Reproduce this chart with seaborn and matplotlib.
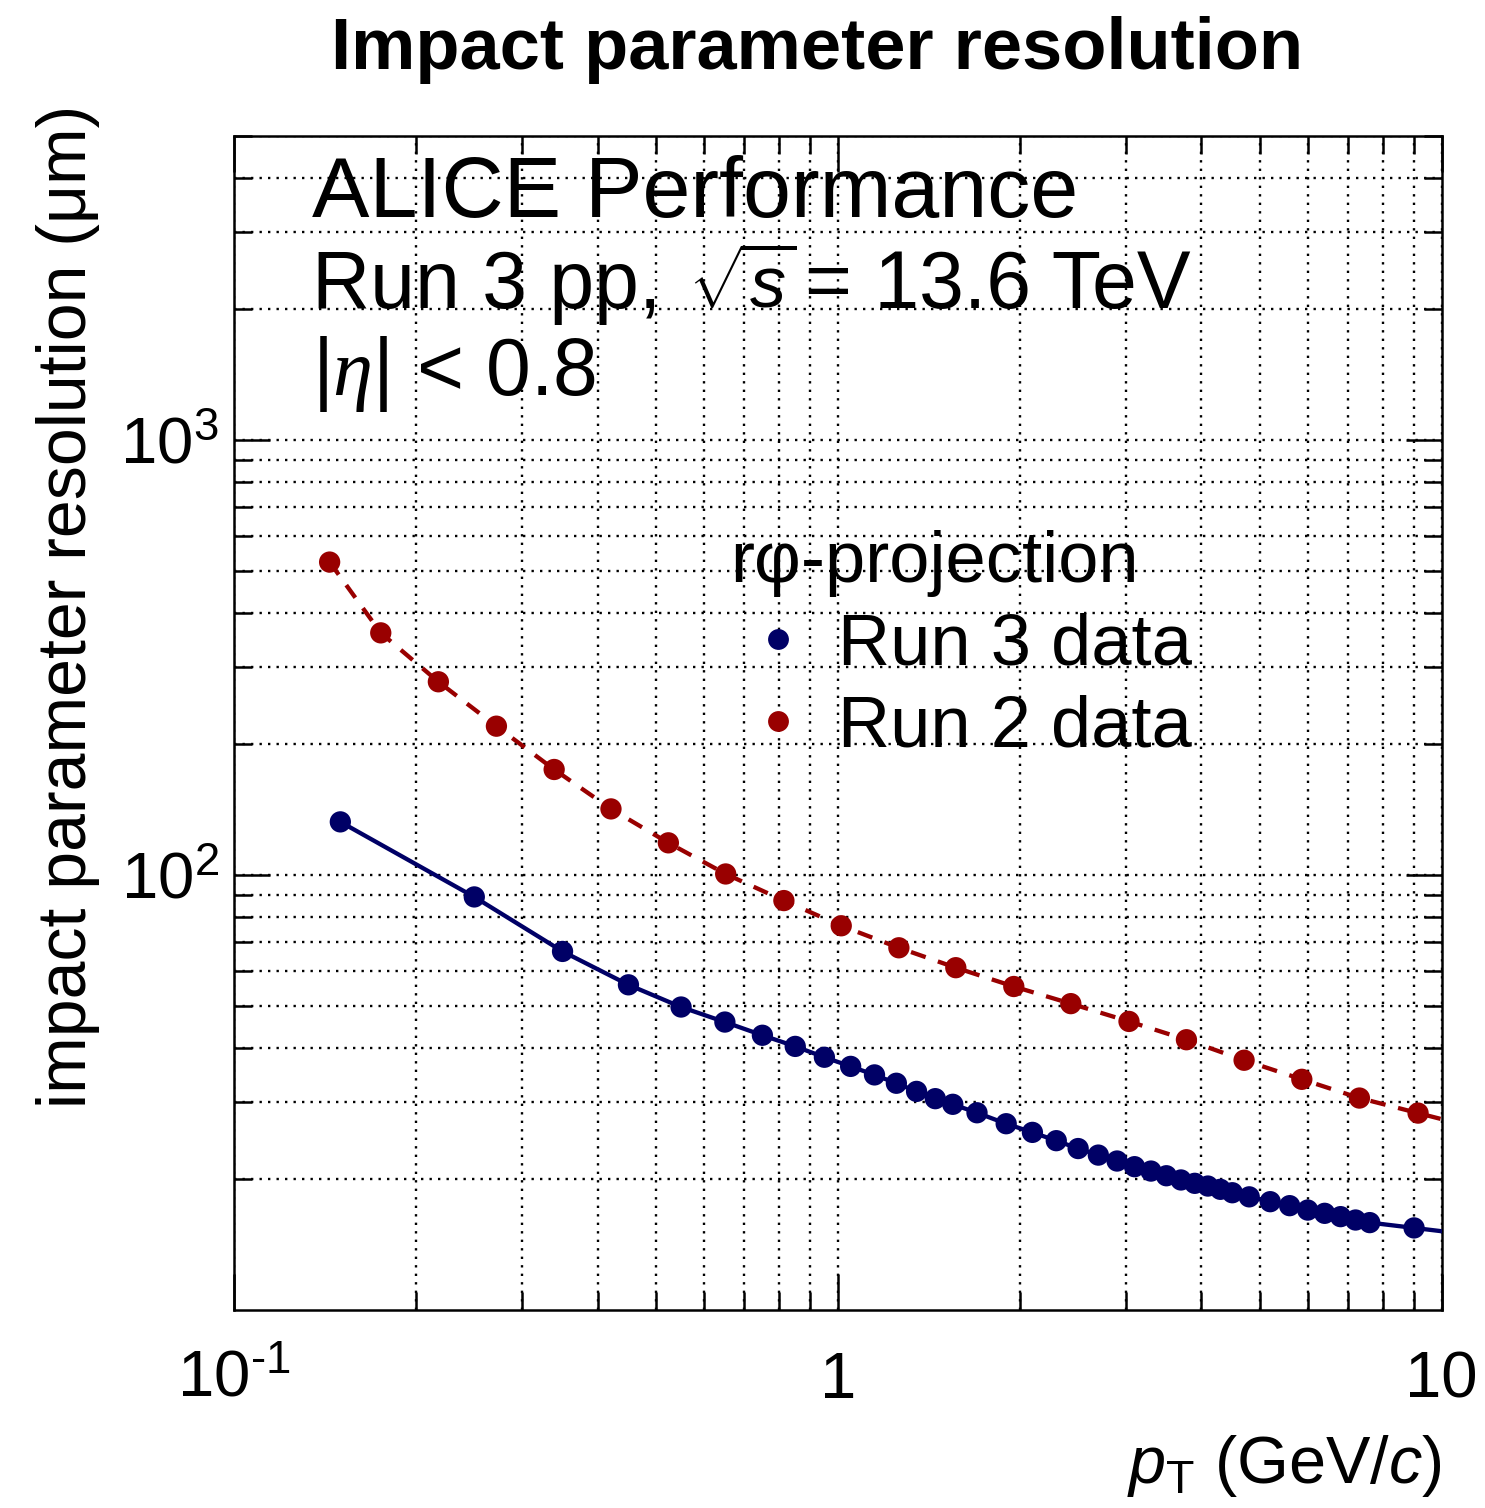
import numpy as np
import pandas as pd
import matplotlib
matplotlib.use("Agg")
import matplotlib.pyplot as plt
import seaborn as sns
from matplotlib.lines import Line2D
from matplotlib.ticker import NullFormatter

# Run 3 pp data: transverse momentum (GeV/c) and r-phi impact parameter resolution (um)
pt_run3 = [0.15, 0.25, 0.35, 0.45, 0.55, 0.65, 0.75, 0.85, 0.95, 1.05,
           1.15, 1.25, 1.35, 1.45, 1.55, 1.7, 1.9, 2.1, 2.3, 2.5,
           2.7, 2.9, 3.1, 3.3, 3.5, 3.7, 3.9, 4.1, 4.3, 4.5,
           4.8, 5.2, 5.6, 6.0, 6.4, 6.8, 7.2, 7.6, 9.0]
res_run3 = [132.4, 89.0, 66.7, 55.9, 49.7, 45.9, 42.8, 40.35, 38.1, 36.3,
            34.7, 33.2, 31.8, 30.6, 29.7, 28.4, 26.8, 25.6, 24.5, 23.5,
            22.7, 22.0, 21.35, 20.86, 20.35, 19.9, 19.55, 19.27, 18.94, 18.6,
            18.2, 17.74, 17.37, 16.97, 16.68, 16.39, 16.1, 15.88, 15.44]

# Run 2 data
pt_run2 = [0.144, 0.175, 0.218, 0.272, 0.339, 0.421, 0.524, 0.652, 0.814, 1.013,
           1.262, 1.568, 1.956, 2.431, 3.035, 3.778, 4.707, 5.866, 7.307, 9.138]
res_run2 = [523.6, 360.0, 277.9, 219.7, 174.7, 141.8, 118.5, 100.5, 87.3, 76.4,
            68.0, 61.2, 55.4, 50.6, 46.05, 41.8, 37.5, 33.9, 30.7, 28.35]

series_labels = ["Run 3 data", "Run 2 data"]
x_tick_values = [0.1, 1, 10]
x_tick_labels = [r"$10^{\text{-}1}$", "1", "10"]
y_tick_values = [100, 1000]
y_tick_labels = [r"$10^{2}$", r"$10^{3}$"]

NAVY = "#000066"
DARKRED = "#990000"

sns.set_theme(style="ticks")
plt.rcParams.update({
    "mathtext.fontset": "custom",
    "mathtext.rm": "Liberation Sans",
    "mathtext.it": "Liberation Sans:italic",
    "mathtext.bf": "Liberation Sans:bold",
    "mathtext.cal": "Liberation Serif:italic",
    "axes.edgecolor": "black",
    "axes.labelcolor": "black",
    "axes.linewidth": 1.8,
    "text.color": "black",
    "xtick.color": "black",
    "ytick.color": "black",
})
plt.rcParams["font.family"] = ["Liberation Sans", "DejaVu Sans"]

W, H = 1485, 1508
fig = plt.figure(figsize=(W / 100, H / 100), dpi=100)
ax = fig.add_axes([234 / W, 1 - 1310 / H, (1441.7 - 234) / W, (1310 - 135.7) / H])
ax.set_xscale("log")
ax.set_yscale("log")
ax.set_xlim(0.1, 10)
ax.set_ylim(10, 5000)


def extend_to_edge(x, y, x_end=10.0):
    """Continue the curve to the right edge along the last log-log segment."""
    lx, ly = np.log10(x), np.log10(y)
    slope = (ly[-1] - ly[-2]) / (lx[-1] - lx[-2])
    y_end = 10 ** (ly[-1] + slope * (np.log10(x_end) - lx[-1]))
    return np.append(x, x_end), np.append(y, y_end)


x3, y3 = extend_to_edge(pt_run3, res_run3)
x2, y2 = extend_to_edge(pt_run2, res_run2)

sns.lineplot(x=x3, y=y3, ax=ax, color=NAVY, lw=3.1, sort=False,
             estimator=None, zorder=3)
sns.lineplot(x=x2, y=y2, ax=ax, color=DARKRED, lw=3.1, sort=False,
             estimator=None, zorder=3)
ax.lines[-1].set_dashes((3.6, 3.0))

sns.scatterplot(x=pt_run3, y=res_run3, ax=ax, color=NAVY, s=235,
                edgecolor="none", zorder=4, legend=False)
sns.scatterplot(x=pt_run2, y=res_run2, ax=ax, color=DARKRED, s=235,
                edgecolor="none", zorder=4, legend=False)

# grid on every decade subdivision
ax.set_axisbelow(True)
ax.grid(which="both", color="black", linestyle=(0, (1, 2.6)), linewidth=1.7)

ax.set_xticks(x_tick_values)
ax.set_xticklabels(x_tick_labels)
ax.set_yticks(y_tick_values)
ax.set_yticklabels(y_tick_labels)
ax.xaxis.set_minor_formatter(NullFormatter())
ax.yaxis.set_minor_formatter(NullFormatter())
ax.tick_params(which="both", direction="in", top=True, right=True,
               width=1.8, labelsize=47)
ax.tick_params(which="major", length=26)
ax.tick_params(which="minor", length=13)
ax.tick_params(axis="x", which="major", pad=63)
ax.tick_params(axis="y", which="major", pad=11)
for lab in ax.get_xticklabels():
    lab.set_verticalalignment("baseline")

ax.set_xlabel(r"$p_{\mathrm{T}}$ (GeV/$c$)", fontsize=48, loc="right")
ax.xaxis.set_label_coords(1.0, -0.105)
ax.set_ylabel("impact parameter resolution (\u03bcm)", fontsize=49, loc="top")
ax.yaxis.set_label_coords(-0.111, 1.026)

fig.suptitle("Impact parameter resolution", x=817 / W, y=1 - 69 / H,
             va="baseline", fontsize=52, fontweight="bold")

fig.text(312 / W, 1 - 217 / H, "ALICE Performance", fontsize=62, va="baseline")
fig.text(312 / W, 1 - 308 / H, "Run 3 pp,", fontsize=58, va="baseline")
fig.text(688 / W, 1 - 308 / H, r"$\sqrt{s}$", fontsize=52, va="baseline")
fig.text(805 / W, 1 - 308 / H, "= 13.6 TeV", fontsize=58, va="baseline")
# pseudorapidity window, eta set in a serif italic
fig.text(312 / W, 1 - 395 / H, r"$|\mathcal{\eta}|$ < 0.8", fontsize=58,
         va="baseline")

handles = [Line2D([], [], linestyle="none", marker="o", markersize=15,
                  color=c, markeredgewidth=0) for c in (NAVY, DARKRED)]
ax.legend(handles, series_labels, title="r\u03c6-projection",
          loc="upper left", bbox_to_anchor=(730 / W, 1 - 530 / H),
          bbox_transform=fig.transFigure, frameon=False, fontsize=52,
          title_fontsize=52, alignment="left", handlelength=1.33,
          handletextpad=0.17, labelspacing=0.21, borderpad=0.0,
          borderaxespad=0.0)

fig.savefig("out.png", dpi=100)
